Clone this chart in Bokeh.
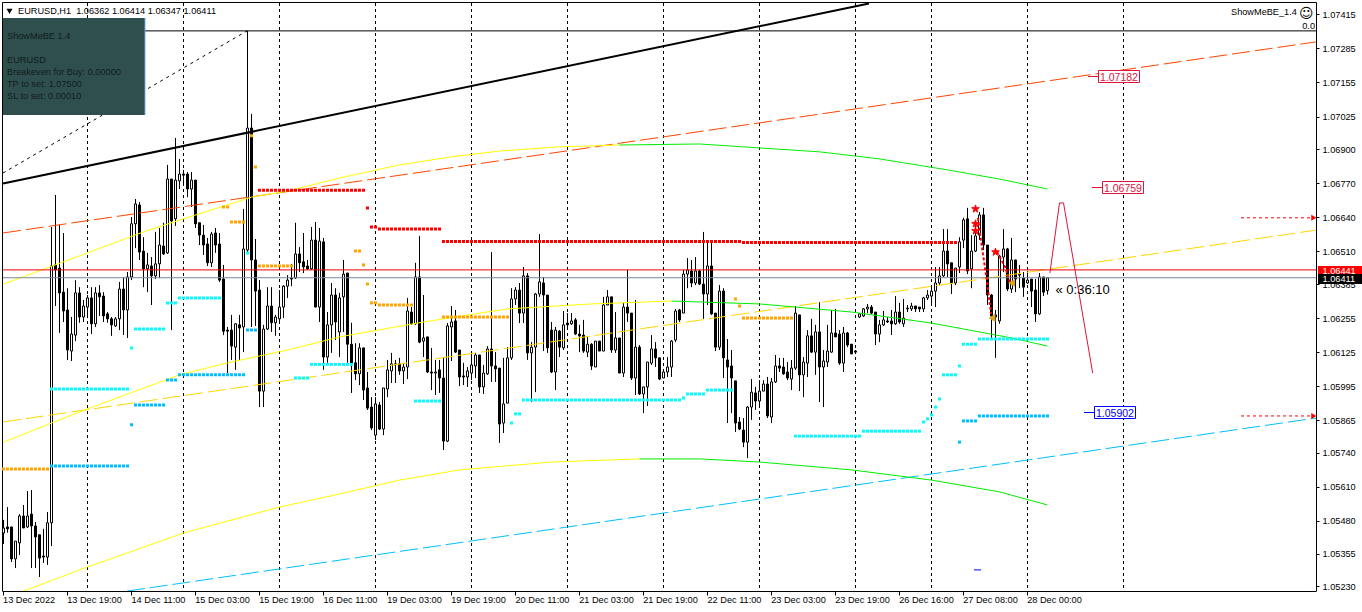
import math
from bokeh.embed import file_html
from bokeh.resources import INLINE
from bokeh.plotting import figure
from bokeh.models import Range1d, FixedTicker, NumeralTickFormatter, Label, BoxAnnotation, ColumnDataSource

high = [
1.05486,1.05535,1.05459,1.05405,1.05508,1.05543,1.05596,1.05600,1.05478,1.05429,
1.05452,1.05516,1.06605,1.06727,1.06613,1.06582,1.06371,1.06261,1.06402,1.06375,
1.06326,1.06345,1.06375,1.06375,1.06383,1.06356,1.06280,1.06261,1.06261,1.06395,
1.06414,1.06433,1.06643,1.06712,1.06700,1.06566,1.06506,1.06490,1.06586,1.06601,
1.06621,1.06842,1.06788,1.06945,1.06865,1.06823,1.06815,1.06815,1.06784,1.06621,
1.06613,1.06563,1.06586,1.06601,1.06582,1.06460,1.06223,1.06269,1.06238,1.06269,
1.06674,1.07354,1.07037,1.06559,1.06402,1.06231,1.06375,1.06375,1.06269,1.06364,
1.06383,1.06421,1.06464,1.06621,1.06528,1.06582,1.06479,1.06605,1.06624,1.06601,
1.06563,1.06280,1.06391,1.06371,1.06353,1.06479,1.06429,1.06239,1.06161,1.06161,
1.06143,1.06051,1.05955,1.05955,1.05936,1.05990,1.06097,1.06124,1.06097,1.06105,
1.06086,1.06334,1.06299,1.06468,1.06571,1.06345,1.06185,1.06143,1.06097,1.06097,
1.06108,1.06238,1.06303,1.06288,1.06135,1.06086,1.06070,1.06124,1.06124,1.06116,
1.06078,1.06150,1.06509,1.06127,1.06066,1.06105,1.06146,1.06371,1.06375,1.06391,
1.06452,1.06429,1.06165,1.06353,1.06578,1.06414,1.06345,1.06242,1.06223,1.06211,
1.06284,1.06276,1.06276,1.06257,1.06231,1.06250,1.06185,1.06161,1.06169,1.06169,
1.06338,1.06364,1.06338,1.06280,1.06181,1.06315,1.06441,1.06276,1.06326,1.06154,
1.05994,1.06089,1.06192,1.06165,1.06105,1.06051,1.06108,1.06173,1.06292,1.06292,
1.06441,1.06486,1.06479,1.06490,1.06441,1.06586,1.06544,1.06548,1.06276,1.06383,
1.06371,1.06177,1.06135,1.06017,1.05879,1.05875,1.05921,1.06024,1.05994,1.06020,
1.06020,1.06032,1.06028,1.06116,1.06105,1.06105,1.06089,1.06097,1.06303,1.06269,
1.06108,1.06211,1.06254,1.06231,1.06318,1.06135,1.06231,1.06288,1.06292,1.06211,
1.06223,1.06204,1.06157,1.06135,1.06276,1.06295,1.06311,1.06307,1.06280,1.06250,
1.06284,1.06261,1.06288,1.06341,1.06315,1.06330,1.06307,1.06315,1.06303,1.06299,
1.06338,1.06364,1.06383,1.06452,1.06452,1.06597,1.06597,1.06468,1.06448,1.06566,
1.06640,1.06678,1.06574,1.06624,1.06662,1.06678,1.06536,1.06349,1.06288,1.06498,
1.06597,1.06525,1.06563,1.06479,1.06460,1.06433,1.06437,1.06406,1.06406,1.06429,
1.06414,1.06414]

body_top = [
1.05455,1.05459,1.05459,1.05405,1.05501,1.05501,1.05501,1.05508,1.05463,1.05429,
1.05348,1.05475,1.06456,1.06460,1.06448,1.06356,1.06288,1.06196,1.06353,1.06353,
1.06303,1.06334,1.06334,1.06353,1.06353,1.06341,1.06273,1.06254,1.06254,1.06368,
1.06368,1.06414,1.06617,1.06693,1.06689,1.06513,1.06460,1.06456,1.06464,1.06536,
1.06532,1.06788,1.06788,1.06784,1.06807,1.06807,1.06807,1.06784,1.06784,1.06621,
1.06574,1.06540,1.06578,1.06582,1.06540,1.06406,1.06211,1.06211,1.06235,1.06231,
1.06521,1.06983,1.06983,1.06479,1.06364,1.06215,1.06303,1.06303,1.06261,1.06299,
1.06379,1.06402,1.06410,1.06502,1.06502,1.06472,1.06456,1.06555,1.06555,1.06551,
1.06548,1.06231,1.06345,1.06345,1.06334,1.06425,1.06429,1.06157,1.06086,1.06143,
1.06143,1.05990,1.05917,1.05929,1.05925,1.05990,1.06059,1.06082,1.06082,1.06082,
1.06070,1.06284,1.06280,1.06414,1.06414,1.06181,1.06185,1.06051,1.06051,1.06059,
1.06028,1.06227,1.06242,1.06246,1.06135,1.06036,1.06055,1.06078,1.06116,1.06116,
1.06047,1.06139,1.06139,1.06074,1.06066,1.05929,1.06105,1.06330,1.06364,1.06364,
1.06418,1.06418,1.06146,1.06349,1.06395,1.06391,1.06345,1.06211,1.06211,1.06207,
1.06231,1.06238,1.06246,1.06250,1.06196,1.06192,1.06157,1.06157,1.06169,1.06169,
1.06307,1.06338,1.06338,1.06181,1.06181,1.06299,1.06299,1.06276,1.06146,1.06146,
1.05994,1.06089,1.06139,1.06139,1.06105,1.06051,1.06070,1.06169,1.06284,1.06288,
1.06425,1.06441,1.06437,1.06437,1.06437,1.06387,1.06456,1.06456,1.06276,1.06360,
1.06360,1.06097,1.06074,1.06017,1.05860,1.05829,1.05917,1.05974,1.05971,1.05978,
1.06005,1.06005,1.06013,1.06074,1.06074,1.06070,1.06051,1.06066,1.06276,1.06269,
1.06089,1.06189,1.06189,1.06204,1.06204,1.06093,1.06131,1.06200,1.06200,1.06196,
1.06200,1.06200,1.06157,1.06131,1.06273,1.06292,1.06299,1.06299,1.06280,1.06231,
1.06250,1.06246,1.06246,1.06280,1.06280,1.06257,1.06295,1.06303,1.06303,1.06299,
1.06334,1.06345,1.06360,1.06391,1.06418,1.06513,1.06513,1.06468,1.06448,1.06548,
1.06632,1.06636,1.06513,1.06571,1.06651,1.06651,1.06536,1.06345,1.06269,1.06494,
1.06521,1.06521,1.06479,1.06479,1.06425,1.06410,1.06402,1.06406,1.06364,1.06414,
1.06414,1.06411]

body_bottom = [
1.05436,1.05452,1.05337,1.05337,1.05398,1.05455,1.05459,1.05463,1.05421,1.05340,
1.05344,1.05344,1.05475,1.06441,1.06353,1.06284,1.06135,1.06131,1.06192,1.06261,
1.06261,1.06299,1.06235,1.06235,1.06338,1.06265,1.06254,1.06231,1.06227,1.06254,
1.06288,1.06288,1.06414,1.06617,1.06509,1.06445,1.06445,1.06418,1.06418,1.06464,
1.06502,1.06506,1.06628,1.06636,1.06781,1.06803,1.06750,1.06750,1.06617,1.06574,
1.06536,1.06468,1.06468,1.06536,1.06402,1.06207,1.06207,1.06150,1.06146,1.06219,
1.06223,1.06517,1.06479,1.06360,1.05978,1.05978,1.06215,1.06239,1.06239,1.06254,
1.06299,1.06379,1.06406,1.06410,1.06468,1.06452,1.06445,1.06445,1.06299,1.06299,
1.06108,1.06108,1.06231,1.06242,1.06204,1.06338,1.06157,1.06078,1.06044,1.06044,
1.05982,1.05913,1.05837,1.05810,1.05833,1.05833,1.05986,1.06055,1.06078,1.06055,
1.06055,1.06070,1.06235,1.06235,1.06165,1.06169,1.06051,1.06047,1.06047,1.06028,
1.05787,1.05787,1.06223,1.06127,1.06032,1.06032,1.06032,1.06047,1.06074,1.05994,
1.05994,1.06044,1.06074,1.06063,1.05852,1.05856,1.05932,1.06105,1.06330,1.06276,
1.06276,1.06124,1.06124,1.06146,1.06349,1.06345,1.06143,1.06051,1.06051,1.06146,
1.06143,1.06231,1.06235,1.06196,1.06189,1.06131,1.06127,1.06074,1.06070,1.06131,
1.06131,1.06307,1.06135,1.06135,1.06047,1.06047,1.06276,1.06028,1.06028,1.05967,
1.05967,1.05994,1.06085,1.06105,1.06024,1.06028,1.06051,1.06070,1.06173,1.06250,
1.06276,1.06425,1.06391,1.06391,1.06387,1.06349,1.06349,1.06273,1.06146,1.06146,
1.06105,1.06070,1.06028,1.05856,1.05833,1.05783,1.05783,1.05917,1.05940,1.05940,
1.05978,1.05883,1.05879,1.06013,1.06066,1.06044,1.06028,1.06024,1.06066,1.06040,
1.06040,1.06085,1.06127,1.06127,1.06070,1.06070,1.06089,1.06127,1.06185,1.06085,
1.06085,1.06154,1.06120,1.06127,1.06261,1.06265,1.06292,1.06276,1.06196,1.06196,
1.06231,1.06242,1.06235,1.06235,1.06242,1.06235,1.06292,1.06292,1.06292,1.06292,
1.06292,1.06334,1.06341,1.06360,1.06391,1.06418,1.06464,1.06391,1.06391,1.06452,
1.06555,1.06437,1.06445,1.06513,1.06574,1.06536,1.06345,1.06265,1.06261,1.06246,
1.06490,1.06368,1.06368,1.06406,1.06421,1.06375,1.06391,1.06360,1.06273,1.06273,
1.06356,1.06362]

low = [
1.05394,1.05437,1.05325,1.05302,1.05352,1.05455,1.05455,1.05302,1.05302,1.05268,
1.05322,1.05314,1.05386,1.06303,1.06200,1.06242,1.06097,1.06093,1.06169,1.06239,
1.06242,1.06257,1.06196,1.06223,1.06265,1.06242,1.06239,1.06189,1.06223,1.06211,
1.06192,1.06181,1.06402,1.06524,1.06479,1.06375,1.06356,1.06307,1.06406,1.06410,
1.06498,1.06502,1.06211,1.06609,1.06750,1.06765,1.06719,1.06681,1.06601,1.06536,
1.06498,1.06456,1.06452,1.06506,1.06395,1.06192,1.06047,1.06097,1.06059,1.06097,
1.06127,1.06509,1.06223,1.06227,1.05917,1.05917,1.06211,1.06204,1.06189,1.06242,
1.06257,1.06334,1.06379,1.06406,1.06433,1.06429,1.06441,1.06441,1.06299,1.06242,
1.06059,1.06086,1.06124,1.06173,1.06108,1.06204,1.06086,1.05971,1.06020,1.06001,
1.05944,1.05906,1.05829,1.05791,1.05829,1.05810,1.05955,1.06009,1.06009,1.06040,
1.06005,1.06024,1.06231,1.06231,1.06161,1.06108,1.06047,1.05982,1.05963,1.05971,
1.05753,1.05783,1.06093,1.06124,1.05997,1.06001,1.05994,1.06020,1.06028,1.05971,
1.05967,1.06040,1.06013,1.06013,1.05780,1.05818,1.05932,1.06097,1.06307,1.06238,
1.06238,1.06097,1.05936,1.05974,1.06338,1.06131,1.06124,1.06047,1.05982,1.06108,
1.06135,1.06223,1.06231,1.06192,1.06127,1.06124,1.06108,1.06059,1.06070,1.06131,
1.06131,1.06307,1.06124,1.06124,1.06047,1.06032,1.06242,1.06020,1.05963,1.05963,
1.05894,1.05921,1.06078,1.06070,1.06020,1.06028,1.06032,1.06032,1.06165,1.06242,
1.06276,1.06371,1.06375,1.06383,1.06383,1.06254,1.06307,1.06269,1.06131,1.06135,
1.06028,1.05856,1.05894,1.05822,1.05829,1.05764,1.05722,1.05868,1.05906,1.05925,
1.05978,1.05875,1.05856,1.06009,1.06051,1.06040,1.06020,1.05982,1.06059,1.05978,
1.05955,1.06032,1.06124,1.06040,1.05936,1.05917,1.06070,1.06124,1.06185,1.06078,
1.06051,1.06146,1.06120,1.06124,1.06257,1.06261,1.06276,1.06273,1.06154,1.06165,
1.06227,1.06238,1.06192,1.06231,1.06235,1.06223,1.06280,1.06284,1.06280,1.06280,
1.06280,1.06326,1.06307,1.06299,1.06383,1.06414,1.06414,1.06349,1.06383,1.06429,
1.06524,1.06425,1.06371,1.06509,1.06555,1.06517,1.06307,1.06181,1.06105,1.06235,
1.06433,1.06360,1.06353,1.06356,1.06371,1.06338,1.06387,1.06299,1.06242,1.06269,
1.06341,1.06347]

direction = ("WBBWWBWBBBBWWBBBBWWB" "WWBWBBBBWWBWWWBBWBWW" "BWBWWBBWBBBBWBBBBBWB" "WWBBBWWBWWWWBWBBBWBW"
             "BWWBWWBBBWBBBWBWWWBB" "WWBWBWBBWBBWWBBBWWWB" "WWBBBWWWWBWBWWWBBBWB" "WBWBBBWBWBWWBWBWBBWB"
             "WWWBBWWWWBWWBWBBWBBW" "BBBBBBWWBWWBWWBBBWWB" "WWBWBWWWBBWBBBWWWBBW" "WBBWBWWWBBWWWWWWBBWW"
             "WBWWWBBBBWWBWBWBWBBW" "BW")

# Indicator dots as (first bar, last bar, price)
red_runs = [(64,90,1.06745),(91,91,1.06677),(92,93,1.06605),(94,109,1.06597),(110,184,1.06549),(185,238,1.06546)]
orange_runs = [(0,11,1.05680),(62,62,1.06953),(63,63,1.06834),(55,56,1.06681),(57,60,1.06624),(64,72,1.06456),
               (88,89,1.06513),(90,90,1.06460),(91,91,1.06387),(92,93,1.06315),(94,102,1.06307),(110,126,1.06261),
               (183,183,1.06330),(184,184,1.06303),(185,197,1.06257)]
cyan_runs = [(12,31,1.05986),(33,40,1.06215),(32,32,1.06143),(41,43,1.06315),(44,54,1.06334),(61,61,1.06506),
             (73,76,1.06028),(77,87,1.06080),(103,109,1.05940),(127,127,1.05856),(128,129,1.05891),(130,169,1.05944),
             (170,170,1.05952),(171,175,1.05967),(176,182,1.05982),(198,214,1.05806),(215,229,1.05825),
             (230,230,1.05860),(231,231,1.05872),(232,232,1.05887),(233,233,1.05917),(234,234,1.05948),
             (235,238,1.06040),(239,239,1.06074),(240,243,1.06157),(244,261,1.06177)]
blue_runs = [(12,31,1.05692),(33,40,1.05925),(32,32,1.05849),(41,43,1.06020),(44,60,1.06040),(61,63,1.06211),
             (240,243,1.05864),(244,261,1.05883),(239,239,1.05783)]

upper_y_x = [0,7.5,21,35,45,62,71,84,99,112,124,139,154]
upper_y_p = [1.06387,1.06429,1.06506,1.06586,1.06636,1.06719,1.06742,1.06792,1.06842,1.06873,1.06895,1.06911,1.06918]
upper_g_x = [154,174,189,204,219,236,249,261]
upper_g_p = [1.06918,1.06922,1.06907,1.06892,1.06865,1.06823,1.06788,1.06750]
mid_y_x = [0,12,21,44,56,71,84,105,126,147,167]
mid_y_p = [1.05783,1.05856,1.05910,1.06040,1.06086,1.06135,1.06185,1.06242,1.06292,1.06311,1.06322]
mid_g_x = [167,189,212,232,252,261]
mid_g_p = [1.06322,1.06311,1.06280,1.06238,1.06181,1.06150]
low_y_x = [5,21,45,69,84,99,114,137,159]
low_y_p = [1.05214,1.05306,1.05436,1.05535,1.05585,1.05638,1.05677,1.05707,1.05719]
low_g_x = [159,174,189,212,232,249,261]
low_g_p = [1.05719,1.05719,1.05707,1.05677,1.05638,1.05593,1.05543]

forecast_x = [261.6,264,265,272.3]
forecast_p = [1.06429,1.06697,1.06697,1.06047]
path_a_x = [243.6,244.9,245.9,246.9]
path_a_p = [1.06640,1.06498,1.06395,1.06273]
path_b_x = [248.4,250.4,251.6]
path_b_p = [1.06509,1.06452,1.06395]
star_x = [243,243,243,248]
star_p = [1.06674,1.06617,1.06590,1.06509]
gold_x = [247.4,252.3]
gold_p = [1.06257,1.06391]

bid_price = 1.06411
ask_price = 1.06441
high_line = 1.07354
separators = [21,45,69,93,117,141,165,189,213,232,256,280]

y_ticks = [1.07415,1.07285,1.07155,1.07025,1.06900,1.06770,1.06640,1.06510,1.06385,
           1.06255,1.06125,1.05995,1.05865,1.05740,1.05610,1.05480,1.05355,1.05230]
x_tick_bars = [0,16,32,48,64,80,96,112,128,144,160,176,192,208,224,240,256]
x_tick_labels = ["13 Dec 2022","13 Dec 19:00","14 Dec 11:00","15 Dec 03:00","15 Dec 19:00","16 Dec 11:00",
                 "19 Dec 03:00","19 Dec 19:00","20 Dec 11:00","21 Dec 03:00","21 Dec 19:00","22 Dec 11:00",
                 "23 Dec 03:00","23 Dec 19:00","26 Dec 16:00","27 Dec 08:00","28 Dec 00:00"]

FONT = "Liberation Sans"
FS = "9.2px"

def X(px):
    return (px - 3.5) / 4.0

def Y(py):
    return 1.07472 - 3.82e-5 * py

p = figure(width=1362, height=612, output_backend="svg", toolbar_location=None,
           x_range=Range1d(X(0.5), X(1362.5)), y_range=Range1d(Y(591.5), Y(0.5)),
           y_axis_location="right", min_border_left=0, min_border_right=0, min_border_top=0,
           min_border_bottom=21)
p.grid.visible = False
p.outline_line_color = None
p.background_fill_color = "white"
p.border_fill_color = "white"

# axes
label_pos = [b + 6.75 if b else 6.4 for b in x_tick_bars]
xa = p.xaxis[0]
xa.ticker = FixedTicker(ticks=label_pos, minor_ticks=x_tick_bars)
xa.major_label_overrides = dict(zip(label_pos, x_tick_labels))
xa.bounds = (X(2.5), X(1316.5))
xa.major_tick_out = 0
xa.major_tick_in = 0
xa.minor_tick_out = 4
xa.minor_tick_in = 0
xa.minor_tick_line_color = "black"
xa.axis_line_color = "black"
xa.major_label_standoff = -1
xa.major_label_text_font = FONT
xa.major_label_text_font_size = FS
xa.major_label_text_color = "black"

ya = p.yaxis[0]
ya.fixed_location = X(1316.5)
ya.bounds = (Y(591.5), Y(2.5))
ya.ticker = FixedTicker(ticks=y_ticks)
ya.formatter = NumeralTickFormatter(format="0.00000")
ya.major_tick_out = 3
ya.major_tick_in = 0
ya.minor_tick_out = 0
ya.minor_tick_in = 0
ya.axis_line_color = "black"
ya.major_tick_line_color = "black"
ya.major_label_standoff = 3
ya.major_label_text_font = FONT
ya.major_label_text_font_size = FS
ya.major_label_text_color = "black"

# frame: left and top edges
p.segment(x0=[X(2.5), X(2.5)], x1=[X(2.5), X(1316.5)], y0=[Y(2.5), Y(2.5)], y1=[Y(591.5), Y(2.5)],
          line_color="black", line_width=1)

# separators
p.segment(x0=separators, x1=separators, y0=[Y(3)] * len(separators), y1=[Y(591)] * len(separators),
          line_color="black", line_width=1, line_dash="3 3")

# candles
bars = list(range(len(high)))
p.segment(x0=bars, x1=bars, y0=low, y1=high, line_color="black", line_width=1)
bull = [d == "W" for d in direction]
src_w = ColumnDataSource(dict(x=[b for b in bars if bull[b]],
                              t=[body_top[b] for b in bars if bull[b]],
                              b=[body_bottom[b] for b in bars if bull[b]]))
src_k = ColumnDataSource(dict(x=[b for b in bars if not bull[b]],
                              t=[body_top[b] for b in bars if not bull[b]],
                              b=[body_bottom[b] for b in bars if not bull[b]]))
p.vbar(x="x", top="t", bottom="b", width=0.5, fill_color="white", line_color="black", line_width=1, source=src_w)
p.vbar(x="x", top="t", bottom="b", width=0.5, fill_color="black", line_color="black", line_width=1, source=src_k)

# channels and trend lines
p.line([X(3), X(1316)], [1.06582, 1.07312], line_color="#FF4500", line_dash="18 5")
p.line([X(3), X(1316)], [1.05860, 1.06593], line_color="#FFD700", line_dash="18 5")
p.line([X(127), X(1316)], [1.05214, 1.05875], line_color="#00BFFF", line_dash="18 5")
p.line([X(3), X(869)], [1.06771, 1.07459], line_color="black", line_width=2)
p.line([X(3), X(247)], [1.06811, high_line], line_color="black", line_dash="3 4")

# regression curves
for xs, ps, col in [(upper_y_x, upper_y_p, "#FFFF00"), (upper_g_x, upper_g_p, "#00EE00"),
                    (mid_y_x, mid_y_p, "#FFFF00"), (mid_g_x, mid_g_p, "#00EE00"),
                    (low_y_x, low_y_p, "#FFFF00"), (low_g_x, low_g_p, "#00EE00")]:
    p.line(xs, ps, line_color=col, line_width=1)

# price lines
p.segment(x0=[X(3)] * 3, x1=[X(1316)] * 3, y0=[high_line, ask_price, bid_price], y1=[high_line, ask_price, bid_price],
          line_color=["black", "#EE0000", "#778899"], line_width=1)

# dots
def expand(runs):
    xs, ys = [], []
    for a, b, price in runs:
        for bar in range(a, b + 1):
            xs.append(bar)
            ys.append(price)
    return xs, ys

for runs, col in [(red_runs, "#FF0000"), (orange_runs, "#FFA500"), (cyan_runs, "#00FFFF"), (blue_runs, "#00BFFF")]:
    xs, ys = expand(runs)
    p.scatter(xs, ys, marker="square", size=3, fill_color=col, line_color=None)

# forecast paths and signals
p.line(forecast_x, forecast_p, line_color="#DC143C", line_width=1)
p.line(path_a_x, path_a_p, line_color="#FF0000", line_width=2, line_dash="3 2")
p.line(path_b_x, path_b_p, line_color="#FF0000", line_width=2, line_dash="3 2")
p.scatter(star_x, star_p, marker="star", size=8, fill_color="#FF0000", line_color="#FF0000")
p.scatter(gold_x, gold_p, marker="triangle", angle=math.pi / 2, size=8, fill_color="#DAA520", line_color=None)
p.scatter([243.5], [1.05295], marker="dash", size=7, line_color="#0000FF")

# dashed arrows to the right
for price in [1.06640, 1.05883]:
    p.line([X(1241), X(1314)], [price, price], line_color="#FF0000", line_dash="3 3")
    p.scatter([X(1313)], [price], marker="triangle", angle=-math.pi / 2, size=6, fill_color="#FF0000", line_color=None)

def text(px, py, s, size=FS, color="black", align="left", font=FONT):
    lab = Label(x=X(px), y=Y(py), text=s, text_font=font, text_font_size=size, text_color=color,
                text_align=align, text_baseline="middle", level="overlay")
    p.add_layout(lab)

def box(x0, x1, y0, y1, fill, line=None):
    p.add_layout(BoxAnnotation(left=X(x0), right=X(x1), top=Y(y0), bottom=Y(y1), fill_color=fill, fill_alpha=1,
                               line_color=line, line_alpha=1 if line else 0, line_width=1, level="overlay"))

# price labels with leader lines
for x0, y, s, col, lx in [(1098.5, 76.5, "1.07182", "#DC143C", 1088), (1102.5, 187.5, "1.06759", "#DC143C", 1092),
                          (1094.5, 412.5, "1.05902", "#0000FF", 1084)]:
    p.line([X(lx), X(x0)], [Y(y), Y(y)], line_color=col)
    box(x0, x0 + 41, y - 6, y + 6, "white", col)
    text(x0 + 1.5, y, s, "10.5px", col)

# top title
p.scatter([X(9.5)], [Y(10.5)], marker="inverted_triangle", size=6, fill_color="black", line_color=None)
text(18, 10.5, "EURUSD,H1\u00a0\u00a01.06362 1.06414 1.06347 1.06411")
text(1231, 11.5, "ShowMeBE_1.4")
text(1299, 12.5, "\u263a", "14px", font="DejaVu Sans")
text(1315, 25.5, "0.0", align="right")
text(1055.5, 289.5, "\u00ab 0:36:10", "13px")

# info panel
box(3, 145, 18, 115, "#2F4F4F")
box(144.4, 145.4, 18, 115, "#5B9BD5")
for py, s in [(36, "ShowMeBE 1.4"), (60, "EURUSD"), (72, "Breakeven for Buy: 0.00000"),
              (84, "TP to set: 1.07500"), (96, "SL to set: 0.00010")]:
    text(7, py, s, color="#101c1c")

# current price tags on the axis
box(1318, 1363, 266, 274, "#FF0000")
text(1322.5, 270.5, "1.06441", color="white")
box(1318, 1363, 274, 284, "#000000")
text(1322.5, 279, "1.06411", color="white")

open("out.html", "w").write(file_html(p, INLINE))
